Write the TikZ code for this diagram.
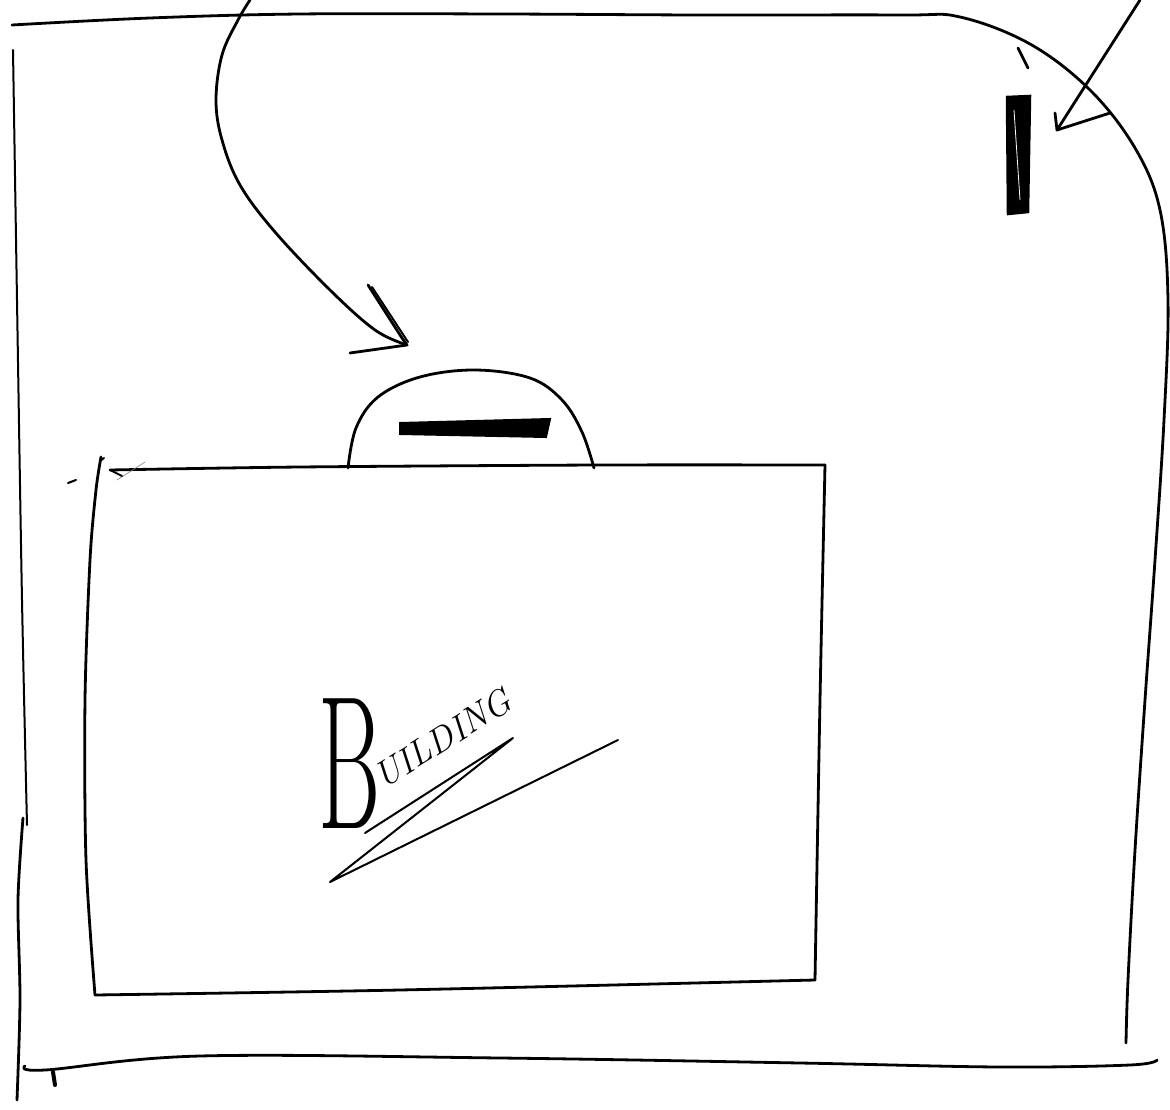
\documentclass[tikz,border=0pt]{standalone}
\begin{document}
\begin{tikzpicture}[x=1pt,y=-1pt,
  pen/.style={line width=2.8pt,line cap=round,line join=round},
  thinpen/.style={line width=2pt,line cap=round,line join=round},
  faint/.style={line width=0.6pt,gray}]
\useasboundingbox[fill=white] (0,0) rectangle (1170,1110);
% outer frame: top and right side
\draw[pen] plot[smooth,tension=0.6] coordinates {(12,25) (150,18) (300,14) (500,14) (700,15) (900,15) (960,17) (1030,44) (1090,90) (1135,148) (1160,210) (1168,300) (1164,420) (1155,560) (1145,700) (1135,850) (1128,980) (1126,1043)};
% bottom
\draw[pen] plot[smooth,tension=0.6] coordinates {(25,1066) (45,1070) (200,1056) (500,1058) (800,1063) (1000,1067) (1130,1065) (1157,1060)};
% left side
\draw[thinpen] plot[smooth] coordinates {(13,50) (17,300) (22,600) (27,825)};
\draw[pen] plot[smooth] coordinates {(23,818) (18,900) (20,1000) (17,1100)};
\draw[line width=4pt,line cap=round] (53,1072) -- (55,1085);
% big left arrow
\draw[pen] plot[smooth,tension=0.6] coordinates {(250,0) (238,20) (222,55) (216,100) (222,140) (240,185) (275,232) (330,290) (375,330) (407,345)};
\draw[pen] (368,285) -- (402,338) -- (407,345) -- (350,353);
\draw[thinpen] (372,287) -- (408,342);
% right arrow
\draw[pen] (1140,0) -- (1057,130);
\draw[pen] (1055,113) -- (1057,130) -- (1110,113);
% small tick
\draw[pen] (1018,48) -- (1028,68);
% black bar
\draw[line width=2.5pt,fill=black] (1007,97) -- (1030,96) -- (1028,212) -- (1008,214) -- cycle;
\draw[white,line width=0.8pt] (1014,110) -- (1020,200);
% handle dome
\draw[pen] plot[smooth,tension=0.6] coordinates {(348,468) (356,428) (378,397) (420,377) (475,370) (530,378) (562,400) (582,432) (594,468)};
% slot
\draw[line width=2pt,fill=black] (400,423) -- (550,419) -- (546,437) -- (400,434) -- cycle;
% building box
\draw[pen] plot[smooth,tension=0.5] coordinates {(110,470) (300,467) (600,465) (825,465)};
\draw[pen] plot[smooth,tension=0.5] coordinates {(825,465) (820,700) (815,980)};
\draw[pen] plot[smooth,tension=0.5] coordinates {(95,995) (400,990) (815,980)};
\draw[pen] plot[smooth,tension=0.5] coordinates {(101,457) (96,490) (90,560) (85,700) (86,860) (95,995)};
\draw[thinpen] (104,458) -- (100,461);
\draw[thinpen] (68,483) -- (76,480);
\draw[faint] (117,480) -- (145,462);
\draw[thinpen] (110,470) -- (122,476);
% label
\node[anchor=base west,inner sep=0pt,xscale=0.5] (labelB) at (318,828)
  {\fontsize{190}{190}\selectfont B};
\node[rotate=32,anchor=base west,inner sep=0pt] (labelR) at (383,790)
  {\itshape\fontsize{36}{36}\selectfont UILDING};
% underline strokes
\draw[thinpen] (365,833) -- (513,738) -- (330,882) -- (618,740);
\end{tikzpicture}
\end{document}
